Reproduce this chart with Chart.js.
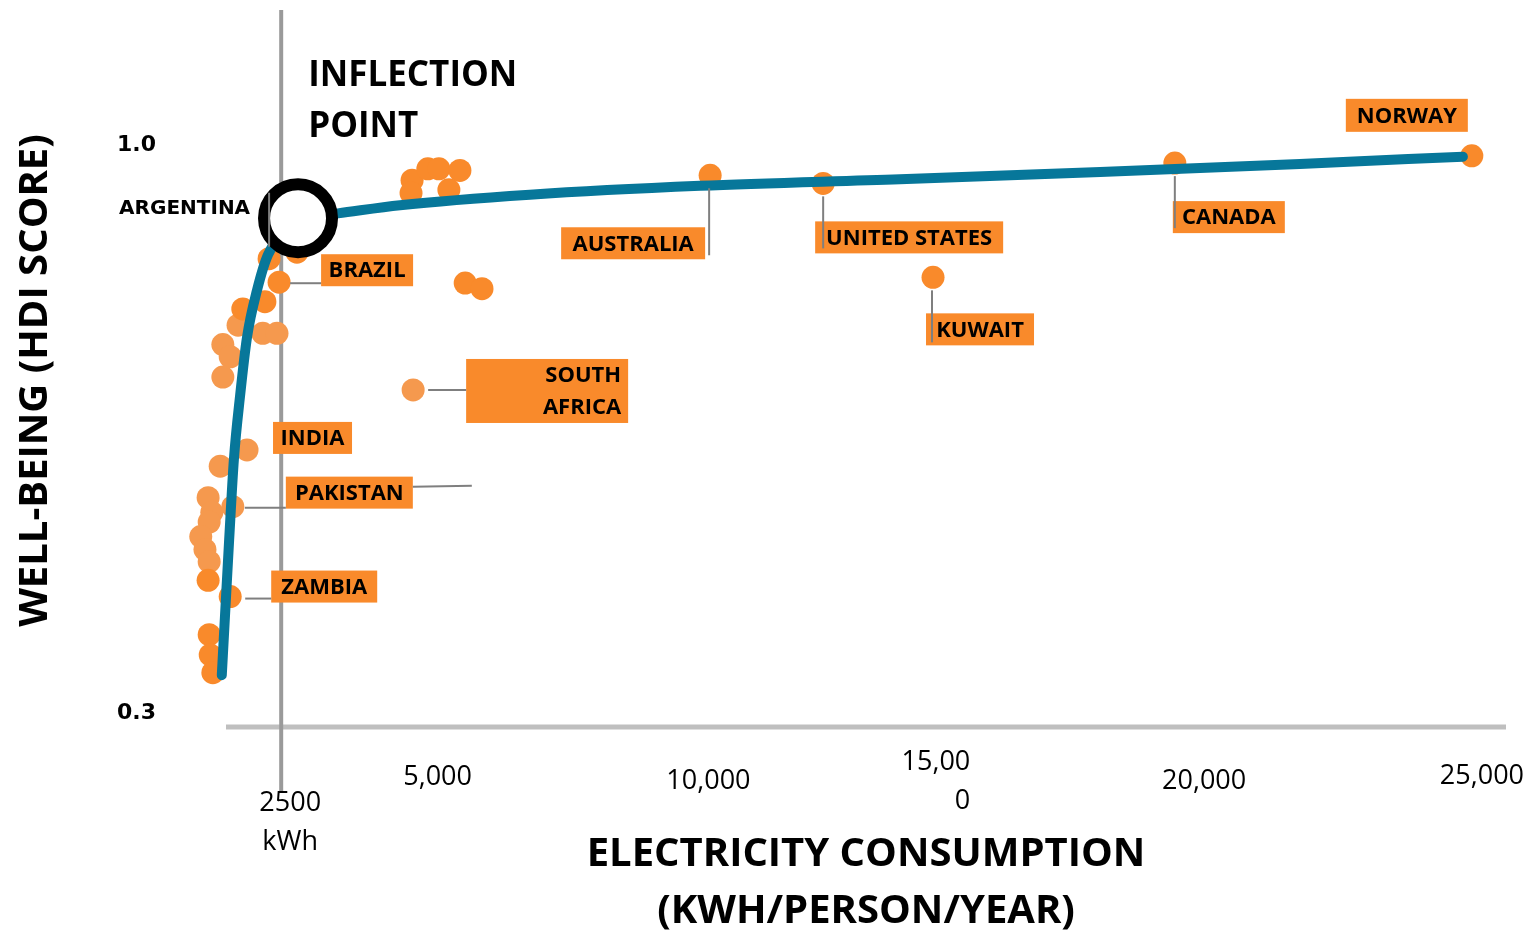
<!DOCTYPE html>
<html>
<head>
<meta charset="utf-8">
<script src="https://cdn.jsdelivr.net/npm/chart.js@4"></script>
<style>
html, body { margin: 0; padding: 0; background: #fff; }
#wrap { width: 1538px; height: 935px; position: relative; }
</style>
</head>
<body>
<div id="wrap"><canvas id="myChart"></canvas></div>
<script>
// unlabelled countries, kWh/person/year vs HDI
const darkX = [4990, 5290, 5500, 5900, 4970, 5690, 6000, 6320, 2800, 2190, 1770, 1110, 1130, 1150, 1200];
const darkY = [0.955, 0.969, 0.969, 0.967, 0.939, 0.943, 0.828, 0.821, 0.866, 0.805, 0.796, 0.461, 0.394, 0.369, 0.347];
const lightX = [1680, 2150, 2420, 1390, 1530, 1390, 1340, 1110, 1180, 1130, 970, 1050, 1130];
const lightY = [0.776, 0.766, 0.766, 0.752, 0.737, 0.712, 0.602, 0.563, 0.545, 0.533, 0.515, 0.499, 0.484];

// labelled countries
const countryNames = ['NORWAY', 'CANADA', 'UNITED STATES', 'AUSTRALIA', 'KUWAIT', 'BRAZIL', 'SOUTH AFRICA', 'INDIA', 'PAKISTAN', 'ZAMBIA', 'ARGENTINA'];
const countryX = [25150, 19500, 12810, 10660, 14900, 2460, 5010, 1850, 1580, 1530, 2270];
const countryY = [0.985, 0.976, 0.951, 0.961, 0.835, 0.829, 0.696, 0.622, 0.552, 0.441, 0.858];
const countryShade = ['d', 'd', 'd', 'd', 'd', 'd', 'l', 'l', 'l', 'd', 'd'];

// trend curve
const trendX = [1370, 1430, 1510, 1600, 1720, 1850, 2040, 2250, 2670, 3090, 3580, 4760, 7230, 10470, 14270, 18080, 21880, 24980];
const trendY = [0.344, 0.416, 0.511, 0.610, 0.690, 0.761, 0.819, 0.863, 0.896, 0.910, 0.914, 0.924, 0.937, 0.948, 0.956, 0.965, 0.975, 0.984];

// inflection marker
const inflectionKwh = 2500;
const circleX = [2820];
const circleY = [0.908];

// axis ticks
const axisStartKwh = 1450;
const xTicks = [2500, 5000, 10000, 15000, 20000, 25000];
const xTickLabels = [['2500', 'kWh'], ['5,000'], ['10,000'], ['15,00', '0'], ['20,000'], ['25,000']];
const yTicks = [0.3, 1.0];
const yTickLabels = ['0.3', '1.0'];

// label placement (style only): box = [dx, dy, w, h] from the point pixel
const labelStyle = {
  'NORWAY': { box: [-126, -57, 122, 33] },
  'CANADA': { box: [-2, 38, 112, 32], lead: [[0, 13, 0, 65]] },
  'UNITED STATES': { box: [-8, 38, 188, 32], lead: [[0, 13, 0, 65]] },
  'AUSTRALIA': { box: [-149, 52, 144, 32], lead: [[-1, 13, -1, 80]] },
  'KUWAIT': { box: [-7, 36, 108, 32], lead: [[-1, 13, -1, 65]] },
  'BRAZIL': { box: [42, -28, 92, 32], lead: [[11, 1, 42, 1]] },
  'SOUTH AFRICA': { box: [53, -31, 162, 64], lines: ['SOUTH', 'AFRICA'], align: 'right', lead: [[15, 0, 53, 0]] },
  'INDIA': { box: [26, -28, 79, 32] },
  'PAKISTAN': { box: [53, -30, 127, 32], lead: [[12, 1, 53, 1], [180, -20, 239, -21]] },
  'ZAMBIA': { box: [41, -26, 106, 32], lead: [[15, 2, 41, 2]] },
  'ARGENTINA': { text: [-19, -50], lead: [[0, -12, 0, -66]] }
};
// tick label nudges [dx, dy of first line, align]
const xTickNudge = [[9, 76, 'center'], [25, 50, 'center'], [33, 54, 'center'], [32, 35, 'right'], [3, 54, 'center'], [18, 49, 'center']];

const dark = '#F98A2B';
const light = '#F5994E';
const teal = '#07779A';

const pts = (xs, ys) => xs.map((v, i) => ({ x: v, y: ys[i] }));
const darkPts = pts(darkX, darkY);
const lightPts = pts(lightX, lightY);
countryNames.forEach((n, i) => {
  (countryShade[i] === 'd' ? darkPts : lightPts).push({ x: countryX[i], y: countryY[i] });
});

const decor = {
  id: 'decor',
  beforeDatasetsDraw(chart) {
    const { ctx, chartArea: a, scales: { x } } = chart;
    const x0 = x.getPixelForValue(axisStartKwh);
    ctx.save();
    ctx.strokeStyle = '#BFBFBF';
    ctx.lineWidth = 5;
    ctx.beginPath();
    ctx.moveTo(x0, a.bottom);
    ctx.lineTo(a.right, a.bottom);
    ctx.stroke();
    const ix = x.getPixelForValue(inflectionKwh);
    ctx.strokeStyle = '#9A9A9A';
    ctx.lineWidth = 4;
    ctx.beginPath();
    ctx.moveTo(ix, a.top);
    ctx.lineTo(ix, a.bottom + 66);
    ctx.stroke();
    ctx.restore();
  },
  afterDatasetsDraw(chart) {
    const { ctx, chartArea: a, scales: { x, y } } = chart;
    const x0 = x.getPixelForValue(axisStartKwh);
    ctx.save();

    // leaders, boxes, names
    countryNames.forEach((name, i) => {
      const st = labelStyle[name];
      const px = x.getPixelForValue(countryX[i]);
      const py = y.getPixelForValue(countryY[i]);
      if (st.box) {
        const [dx, dy, w, h] = st.box;
        ctx.fillStyle = dark;
        ctx.fillRect(px + dx, py + dy, w, h);
      }
      ctx.strokeStyle = '#7F7F7F';
      ctx.lineWidth = 2;
      (st.lead || []).forEach(l => {
        ctx.beginPath();
        ctx.moveTo(px + l[0], py + l[1]);
        ctx.lineTo(px + l[2], py + l[3]);
        ctx.stroke();
      });
      ctx.fillStyle = '#000';
      ctx.textBaseline = 'middle';
      if (st.box) {
        const [dx, dy, w, h] = st.box;
        ctx.font = 'bold 22px "Open Sans"';
        const lines = st.lines || [name];
        if (st.align === 'right') {
          ctx.textAlign = 'right';
          lines.forEach((t, k) => ctx.fillText(t, px + dx + w - 7, py + dy + 17 + k * 32));
        } else {
          ctx.textAlign = 'center';
          ctx.fillText(name, px + dx + w / 2, py + dy + h / 2 + 1);
        }
      } else {
        ctx.font = 'bold 20px "DejaVu Sans"';
        ctx.textAlign = 'right';
        ctx.fillText(name, px + st.text[0], py + st.text[1]);
      }
    });

    // x tick labels
    ctx.fillStyle = '#000';
    ctx.font = '27px "Open Sans"';
    ctx.textBaseline = 'middle';
    xTicks.forEach((v, i) => {
      const [dx, dy, al] = xTickNudge[i];
      ctx.textAlign = al;
      const tx = x.getPixelForValue(v) + dx;
      xTickLabels[i].forEach((t, k) => ctx.fillText(t, tx, a.bottom + dy + k * 39));
    });

    // y tick labels
    ctx.font = 'bold 22px "DejaVu Sans"';
    ctx.textAlign = 'left';
    yTicks.forEach((v, i) => ctx.fillText(yTickLabels[i], x0 - 109, y.getPixelForValue(v) + 2));

    // inflection caption
    const ix = x.getPixelForValue(inflectionKwh);
    ctx.font = 'bold 35px "Open Sans"';
    ctx.fillText('INFLECTION', ix + 27, a.top + 66);
    ctx.fillText('POINT', ix + 27, a.top + 117);

    // axis titles
    ctx.font = 'bold 40px "Open Sans"';
    ctx.textAlign = 'center';
    const cx = (x0 + a.right) / 2;
    ctx.fillText('ELECTRICITY CONSUMPTION', cx, a.bottom + 128);
    ctx.fillText('(KWH/PERSON/YEAR)', cx, a.bottom + 185);
    ctx.translate(x0 - 190, (a.top + a.bottom) / 2 + 12);
    ctx.rotate(-Math.PI / 2);
    ctx.fillText('WELL-BEING (HDI SCORE)', 0, 0);
    ctx.restore();
  }
};

const ctx = document.getElementById('myChart').getContext('2d');
const myChart = new Chart(ctx, {
  type: 'scatter',
  data: {
    datasets: [
      {
        label: 'Inflection',
        data: pts(circleX, circleY),
        pointRadius: 34,
        pointBorderWidth: 12,
        backgroundColor: '#fff',
        borderColor: '#000',
        pointBackgroundColor: '#fff',
        pointBorderColor: '#000',
        clip: false,
        order: 0,
      },
      {
        label: 'Trend',
        data: pts(trendX, trendY),
        showLine: true,
        cubicInterpolationMode: 'monotone',
        borderColor: teal,
        borderWidth: 10,
        borderCapStyle: 'round',
        pointRadius: 0,
        clip: false,
        order: 1,
      },
      {
        label: 'Countries',
        data: darkPts,
        pointRadius: 11.5,
        pointBorderWidth: 0,
        backgroundColor: dark,
        pointBackgroundColor: dark,
        clip: false,
        order: 2,
      },
      {
        label: 'Countries (light)',
        data: lightPts,
        pointRadius: 11.5,
        pointBorderWidth: 0,
        backgroundColor: light,
        pointBackgroundColor: light,
        clip: false,
        order: 3,
      },
    ],
  },
  options: {
    responsive: true,
    maintainAspectRatio: false,
    animation: false,
    events: [],
    layout: { autoPadding: false, padding: { left: 180, right: 32, top: 10, bottom: 208 } },
    plugins: { legend: { display: false }, tooltip: { enabled: false } },
    scales: {
      x: { type: 'linear', min: 575, max: 25800, display: false },
      y: { type: 'linear', min: 0.28, max: 1.165, display: false },
    },
  },
  plugins: [decor],
});
</script>
</body>
</html>
